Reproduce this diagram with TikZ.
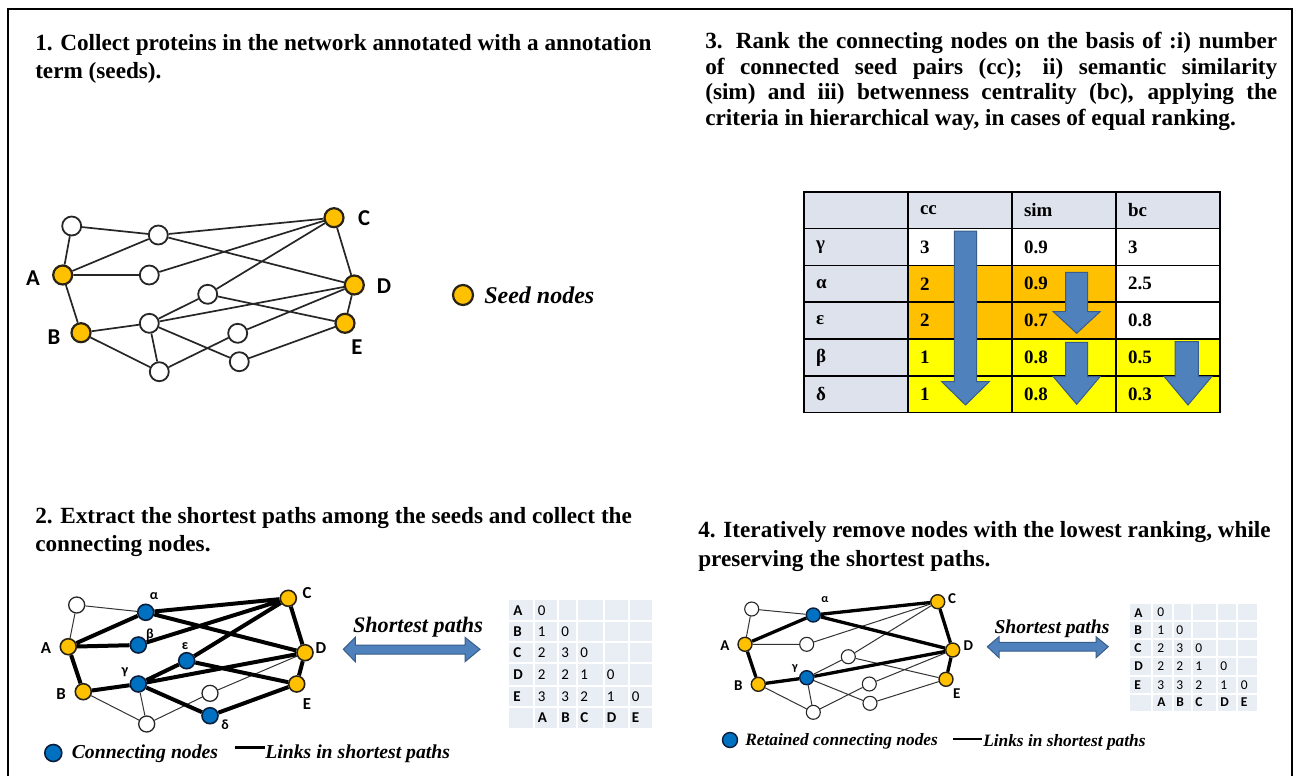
\documentclass[tikz,border=0pt]{standalone}
\usepackage{fontspec}
\setmainfont{Liberation Serif}
\newfontfamily\calfont{Carlito}
\usetikzlibrary{backgrounds}
\newlength\pxu \setlength\pxu{0.75pt}
\definecolor{seed}{RGB}{255,192,0}
\definecolor{seedd}{RGB}{40,35,20}
\definecolor{cnode}{RGB}{0,112,192}
\definecolor{cnoded}{RGB}{10,30,60}
\definecolor{hdr}{RGB}{221,226,236}
\definecolor{orng}{RGB}{255,192,0}
\definecolor{yllw}{RGB}{255,255,0}
\definecolor{arrf}{RGB}{79,129,189}
\definecolor{arrd}{RGB}{56,93,138}
\definecolor{matf}{RGB}{233,237,244}
\tikzset{
 ttl/.style={inner sep=0pt, anchor=base west, font=\fontsize{17.4}{20}\selectfont\bfseries},
 wn1/.style={circle, draw=black!85, fill=white, line width=1.8\pxu, minimum size=19\pxu, inner sep=0pt},
 sn1/.style={wn1, fill=seed, draw=seedd, line width=2.2\pxu},
 e1/.style={line width=1.7\pxu, draw=black!85},
 lab1/.style={inner sep=0pt, font=\calfont\bfseries\fontsize{17}{20}\selectfont},
 wn2/.style={circle, draw=black!85, fill=white, line width=1.3\pxu, minimum size=16\pxu, inner sep=0pt},
 sn2/.style={wn2, fill=seed, draw=seedd, line width=1.6\pxu},
 bn2/.style={wn2, fill=cnode, draw=cnoded, line width=1.6\pxu},
 lab2/.style={inner sep=0pt, font=\calfont\bfseries\fontsize{12.6}{14}\selectfont},
 gk2/.style={inner sep=0pt, font=\calfont\bfseries\fontsize{10.5}{12}\selectfont},
 wn4/.style={circle, draw=black!85, fill=white, line width=1.1\pxu, minimum size=14\pxu, inner sep=0pt},
 sn4/.style={wn4, fill=seed, draw=seedd, line width=1.4\pxu},
 bn4/.style={wn4, fill=cnode, draw=cnoded, line width=1.4\pxu},
 lab4/.style={inner sep=0pt, font=\calfont\bfseries\fontsize{11.25}{13}\selectfont},
 gk4/.style={inner sep=0pt, font=\calfont\bfseries\fontsize{9}{11}\selectfont},
 thin/.style={line width=1\pxu, draw=black!80},
 thick2/.style={line width=4\pxu, draw=black},
 thick4/.style={line width=3.3\pxu, draw=black},
 cell/.style={draw, line width=1.5\pxu, minimum width=104\pxu, minimum height=36.8\pxu, text width=80\pxu, inner xsep=12\pxu, inner ysep=0pt, align=left, anchor=north west, font=\fontsize{14.2}{16}\selectfont\bfseries},
 tarrow/.style={fill=arrf, draw=arrd, line width=1\pxu},
 mval2/.style={inner sep=0pt, anchor=west, font=\calfont\fontsize{11.25}{13}\selectfont},
 mlab2/.style={mval2, font=\calfont\bfseries\fontsize{11.25}{13}\selectfont},
 mval4/.style={inner sep=0pt, anchor=west, font=\calfont\fontsize{10.1}{12}\selectfont},
 mlab4/.style={mval4, font=\calfont\bfseries\fontsize{10.1}{12}\selectfont},
 legtxt/.style={inner sep=0pt, anchor=west, font=\bfseries\itshape},
}
\begin{document}
\begin{tikzpicture}[x=0.75pt,y=-0.75pt]
\useasboundingbox (0,0) rectangle (1295,776);
\begin{scope}[on background layer]
\fill[white] (0,0) rectangle (1295,776);
\end{scope}
\draw[line width=2\pxu] (7.5,776) -- (7.5,9) -- (1292,9) -- (1292,776);

% ---------- titles
\node[ttl] (t1a) at (35,50.5) {1. Collect proteins in the network annotated with a annotation};
\node[ttl] (t1b) at (35,78.5) {term (seeds).};
\node[ttl] (t3a) at (705,48.5) {\makebox[572\pxu][s]{3. Rank the connecting nodes on the basis of :i) number}};
\node[ttl] (t3b) at (705,74.2) {\makebox[572\pxu][s]{of connected seed pairs (cc); ii) semantic similarity}};
\node[ttl] (t3c) at (705,99.9) {\makebox[572\pxu][s]{(sim) and iii) betwenness centrality (bc), applying the}};
\node[ttl] (t3d) at (705,125.6) {criteria in hierarchical way, in cases of equal ranking.};
\node[ttl] (t2a) at (35,523.5) {2. Extract the shortest paths among the seeds and collect the};
\node[ttl] (t2b) at (35,551.5) {connecting nodes.};
\node[ttl] (t4a) at (698,537.5) {4. Iteratively remove nodes with the lowest ranking, while};
\node[ttl] (t4b) at (698,566.5) {preserving the shortest paths.};

% ---------- panel 1 network
\node[wn1] (a1) at (71.7,226) {};
\node[wn1] (a2) at (158.3,235) {};
\node[sn1] (aC) at (334,217.7) {};
\node[sn1] (aA) at (62.7,275) {};
\node[wn1] (a3) at (149.3,275) {};
\node[sn1] (aD) at (354.3,285) {};
\node[wn1] (a4) at (207.7,294.3) {};
\node[wn1] (a5) at (149.3,323.3) {};
\node[sn1] (aE) at (345,323.3) {};
\node[sn1] (aB) at (81,332.7) {};
\node[wn1] (a6) at (237.7,333.3) {};
\node[wn1] (a7) at (239.3,361.7) {};
\node[wn1] (a8) at (159.3,371.7) {};
\begin{scope}[on background layer]
\draw[e1] (a1)--(a2) (a1)--(aA) (a2)--(aC) (a2)--(aA) (a2)--(aD) (aA)--(a3) (a3)--(aC)
 (aA)--(aB) (aB)--(a5) (aB)--(a8) (a5)--(a4) (a4)--(aC) (a4)--(aE) (a5)--(aD)
 (a5)--(a7) (a5)--(a8) (a6)--(aD) (a6)--(a8) (a7)--(aE) (aC)--(aD) (aD)--(aE);
\end{scope}
\node[lab1] (laC) at (364,218) {C};
\node[lab1] (laA) at (33,278) {A};
\node[lab1] (laD) at (384,286) {D};
\node[lab1] (laB) at (54,337) {B};
\node[lab1] (laE) at (357,347) {E};
\node[sn1, minimum size=20\pxu] (legS) at (463,295) {};
\node[legtxt, font=\fontsize{18}{21}\selectfont\bfseries\itshape] (legSt) at (484,295.5) {Seed nodes};

% ---------- panel 3 table
\node[cell, fill=hdr] (h0) at (803.3,191) {};
\node[cell, fill=hdr] (h1) at (907.3,191) {cc};
\node[cell, fill=hdr] (h2) at (1011.3,191) {sim};
\node[cell, fill=hdr] (h3) at (1115.3,191) {bc};
\node[cell, fill=hdr] (g0) at (803.3,227.8) {γ};
\node[cell, fill=white] (g1) at (907.3,227.8) {3};
\node[cell, fill=white] (g2) at (1011.3,227.8) {0.9};
\node[cell, fill=white] (g3) at (1115.3,227.8) {3};
\node[cell, fill=hdr] (al0) at (803.3,264.6) {α};
\node[cell, fill=orng] (al1) at (907.3,264.6) {2};
\node[cell, fill=orng] (al2) at (1011.3,264.6) {0.9};
\node[cell, fill=white] (al3) at (1115.3,264.6) {2.5};
\node[cell, fill=hdr] (ep0) at (803.3,301.4) {ε};
\node[cell, fill=orng] (ep1) at (907.3,301.4) {2};
\node[cell, fill=orng] (ep2) at (1011.3,301.4) {0.7};
\node[cell, fill=white] (ep3) at (1115.3,301.4) {0.8};
\node[cell, fill=hdr] (be0) at (803.3,338.2) {β};
\node[cell, fill=yllw] (be1) at (907.3,338.2) {1};
\node[cell, fill=yllw] (be2) at (1011.3,338.2) {0.8};
\node[cell, fill=yllw] (be3) at (1115.3,338.2) {0.5};
\node[cell, fill=hdr] (de0) at (803.3,375) {δ};
\node[cell, fill=yllw] (de1) at (907.3,375) {1};
\node[cell, fill=yllw] (de2) at (1011.3,375) {0.8};
\node[cell, fill=yllw] (de3) at (1115.3,375) {0.3};
\filldraw[tarrow] (954.3,231) -- (976.7,231) -- (976.7,381.7) -- (989.3,381.7) -- (965.5,405) -- (941.7,381.7) -- (954.3,381.7) -- cycle;
\filldraw[tarrow] (1065.7,272.3) -- (1087.7,272.3) -- (1087.7,311.7) -- (1100,311.7) -- (1076.7,333.3) -- (1053.3,311.7) -- (1065.7,311.7) -- cycle;
\filldraw[tarrow] (1065.7,342.3) -- (1087.7,342.3) -- (1087.7,376.7) -- (1100,376.7) -- (1076.7,404.3) -- (1053.3,376.7) -- (1065.7,376.7) -- cycle;
\filldraw[tarrow] (1175,341.7) -- (1198.3,341.7) -- (1198.3,376.7) -- (1211.7,376.7) -- (1188,405) -- (1164.3,376.7) -- (1175,376.7) -- cycle;

% ---------- panel 2 network
\node[wn2] (b1) at (76.7,605) {};
\node[bn2] (bal) at (145.7,612.3) {};
\node[sn2] (bC) at (288.3,598.3) {};
\node[sn2] (bA) at (68.3,646.7) {};
\node[bn2] (bbe) at (138.3,645) {};
\node[bn2] (bep) at (186.7,660.7) {};
\node[sn2] (bD) at (305,652.7) {};
\node[bn2] (bga) at (138.3,684) {};
\node[sn2] (bB) at (83.3,691.7) {};
\node[sn2] (bE) at (296.7,684) {};
\node[wn2] (b6) at (210,693.3) {};
\node[wn2] (b8) at (146.7,724) {};
\node[bn2] (bde) at (210,715.7) {};
\begin{scope}[on background layer]
\draw[thin] (b1)--(bal) (b1)--(bA) (bB)--(b8) (bga)--(b8) (b8)--(b6) (b6)--(bD);
\draw[thick2] (bal)--(bC) (bal)--(bA) (bal)--(bD) (bA)--(bbe) (bbe)--(bC) (bA)--(bB)
 (bB)--(bga) (bga)--(bep) (bep)--(bC) (bep)--(bE) (bga)--(bD) (bga)--(bde) (bde)--(bE)
 (bC)--(bD) (bD)--(bE);
\end{scope}
\node[gk2] (lbal) at (154,596) {α};
\node[lab2] (lbC) at (307,593) {C};
\node[lab2] (lbA) at (46,648) {A};
\node[gk2] (lbbe) at (150,634.5) {β};
\node[gk2] (lbep) at (185,646.5) {ε};
\node[lab2] (lbD) at (321,648) {D};
\node[gk2] (lbga) at (125,672) {γ};
\node[lab2] (lbB) at (61,694) {B};
\node[lab2] (lbE) at (307,704) {E};
\node[gk2] (lbde) at (225,725) {δ};

% double arrow panel 2
\filldraw[tarrow] (343.3,649.3) -- (355.3,637.3) -- (355.3,645) -- (465,645) -- (465,637.3) -- (480,649.3) -- (465,661.7) -- (465,654) -- (355.3,654) -- (355.3,661.7) -- cycle;
\node[inner sep=0pt, font=\fontsize{16.6}{19}\selectfont\bfseries\itshape] (sp2) at (418,627) {Shortest paths};

% matrix panel 2
\fill[matf] (509.3,600) rectangle (651.7,728.3);
\foreach \x in {534,558.3,577.3,604,629} \draw[white, line width=2\pxu] (\x,600) -- (\x,728.3);
\foreach \y in {620.7,641.7,663.3,685.7,707.3} \draw[white, line width=2\pxu] (509.3,\y) -- (651.7,\y);
\def\mxs{{537.5,561,580,606.5,631.5}}
\def\mys{{610.35,631.2,652.5,674.5,696.5,717.8}}
\foreach \lab/\vals [count=\r from 0] in {A/{0},B/{1,0},C/{2,3,0},D/{2,2,1,0},E/{3,3,2,1,0}}{
  \pgfmathsetmacro\yy{\mys[\r]}
  \node[mlab2] (p2r\lab) at (513,\yy) {\lab};
  \foreach \v [count=\c from 0] in \vals {
    \pgfmathsetmacro\xx{\mxs[\c]}
    \node[mval2] (p2v\lab\c) at (\xx,\yy) {\v};
  }
}
\foreach \lab [count=\c from 0] in {A,B,C,D,E}{
  \pgfmathsetmacro\xx{\mxs[\c]}
  \node[mlab2] (p2c\lab) at (\xx,717.8) {\lab};
}

% legend panel 2
\node[bn2, minimum size=17\pxu, line width=1.6\pxu] (leg2c) at (53.3,753) {};
\node[legtxt, font=\fontsize{14.8}{17}\selectfont\bfseries\itshape] (leg2t) at (71.5,754) {Connecting nodes};
\coordinate (leg2l1) at (235,747);
\coordinate (leg2l2) at (265,747);
\draw[line width=3\pxu] (leg2l1) -- (leg2l2);
\node[legtxt, font=\fontsize{14.8}{17}\selectfont\bfseries\itshape] (leg2u) at (265,754) {Links in shortest paths};

% ---------- panel 4 network
\node[wn4] (c1) at (751.7,609) {};
\node[bn4] (cal) at (813.3,615) {};
\node[sn4] (cC) at (937.7,601.7) {};
\node[sn4] (cA) at (745,644.3) {};
\node[wn4] (c3) at (806.7,644.3) {};
\node[sn4] (cD) at (952.7,650) {};
\node[wn4] (c4) at (848.3,656.7) {};
\node[bn4] (cga) at (806.7,677.7) {};
\node[sn4] (cB) at (758.3,684.3) {};
\node[sn4] (cE) at (946,679.3) {};
\node[wn4] (c6) at (869.3,684) {};
\node[wn4] (c7) at (870,703.3) {};
\node[wn4] (c8) at (813.3,712.3) {};
\begin{scope}[on background layer]
\draw[thin] (c1)--(cal) (c1)--(cA) (cA)--(c3) (c3)--(cC) (cga)--(c4) (c4)--(cC) (c4)--(cE)
 (cga)--(c7) (cga)--(c8) (cB)--(c8) (c8)--(c6) (c6)--(cD) (c7)--(cE);
\draw[thick4] (cA)--(cal) (cal)--(cC) (cal)--(cD) (cC)--(cD) (cA)--(cB) (cB)--(cga) (cga)--(cD) (cD)--(cE);
\end{scope}
\node[gk4] (lcal) at (825,600) {α};
\node[lab4] (lcC) at (952,599) {C};
\node[lab4] (lcA) at (725,646) {A};
\node[lab4] (lcD) at (968.3,645.5) {D};
\node[gk4] (lcga) at (795,668.3) {γ};
\node[lab4] (lcB) at (738.3,685.5) {B};
\node[lab4] (lcE) at (956.7,693.3) {E};

% double arrow panel 4
\filldraw[tarrow] (987.3,646.7) -- (999,636.7) -- (999,642.3) -- (1096,642.3) -- (1096,636.7) -- (1108.3,646.7) -- (1096,657.7) -- (1096,651) -- (999,651) -- (999,657.7) -- cycle;
\node[inner sep=0pt, font=\fontsize{14.7}{17}\selectfont\bfseries\itshape] (sp4) at (1052,628.5) {Shortest paths};

% matrix panel 4
\fill[matf] (1130,604.3) rectangle (1257.3,711);
\foreach \x in {1152.3,1173.3,1191.7,1216.7,1236.7} \draw[white, line width=2\pxu] (\x,604.3) -- (\x,711);
\foreach \y in {621,639.3,657.3,675.7,693.7} \draw[white, line width=2\pxu] (1130,\y) -- (1257.3,\y);
\def\nxs{{1157,1176,1195,1220,1240.5}}
\def\nys{{612.65,630.15,648.3,666.5,684.7,702.35}}
\foreach \lab/\vals [count=\r from 0] in {A/{0},B/{1,0},C/{2,3,0},D/{2,2,1,0},E/{3,3,2,1,0}}{
  \pgfmathsetmacro\yy{\nys[\r]}
  \node[mlab4] (p4r\lab) at (1134,\yy) {\lab};
  \foreach \v [count=\c from 0] in \vals {
    \pgfmathsetmacro\xx{\nxs[\c]}
    \node[mval4] (p4v\lab\c) at (\xx,\yy) {\v};
  }
}
\foreach \lab [count=\c from 0] in {A,B,C,D,E}{
  \pgfmathsetmacro\xx{\nxs[\c]}
  \node[mlab4] (p4c\lab) at (\xx,702.35) {\lab};
}

% legend panel 4
\node[bn4, minimum size=15\pxu, line width=1.4\pxu] (leg4c) at (730,740) {};
\node[legtxt, font=\fontsize{13}{15}\selectfont\bfseries\itshape] (leg4t) at (745,741) {Retained connecting nodes};
\coordinate (leg4l1) at (953.3,739);
\coordinate (leg4l2) at (981.7,739);
\draw[line width=2.6\pxu] (leg4l1) -- (leg4l2);
\node[legtxt, font=\fontsize{13}{15}\selectfont\bfseries\itshape] (leg4u) at (983,742) {Links in shortest paths};
\end{tikzpicture}
\end{document}
